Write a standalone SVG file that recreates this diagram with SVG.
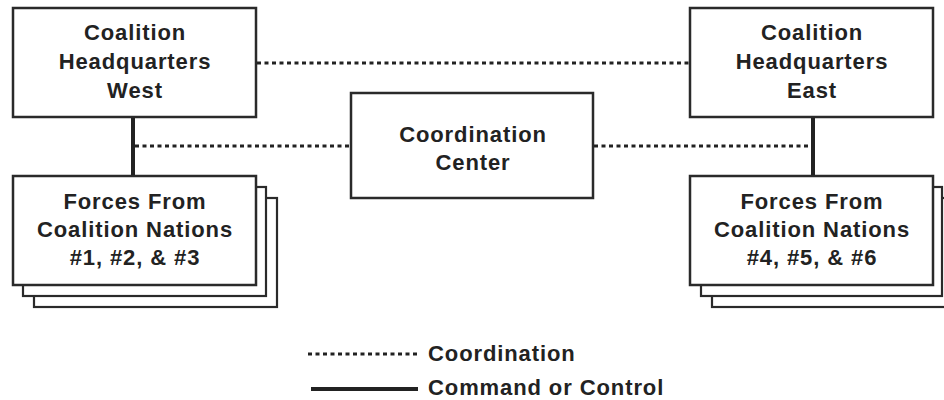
<svg xmlns="http://www.w3.org/2000/svg" width="944" height="400" viewBox="0 0 944 400">
<style>
.box{fill:#fff;stroke:#2a2a2a;stroke-width:2.5}
.back{fill:#fff;stroke:#2a2a2a;stroke-width:2.2}
.t{font-family:"Liberation Sans",Arial,sans-serif;font-weight:bold;font-size:22px;letter-spacing:0.9px;fill:#222;text-anchor:middle}
.lt{font-family:"Liberation Sans",Arial,sans-serif;font-weight:bold;font-size:22px;letter-spacing:0.9px;fill:#222}
.dot{stroke:#222;stroke-width:3;stroke-dasharray:4 3.5;fill:none}
.solid{stroke:#222;stroke-width:4;fill:none}
</style>
<rect width="944" height="400" fill="#fff"/>
<g id="connectors">
<line class="dot" x1="257" y1="63" x2="689" y2="63"/>
<line class="dot" x1="135" y1="146" x2="350" y2="146"/>
<line class="dot" x1="594" y1="146" x2="811" y2="146"/>
<line class="solid" x1="133" y1="117" x2="133" y2="176"/>
<line class="solid" x1="813" y1="117" x2="813" y2="176"/>
</g>
<g id="hq-west">
<rect class="box" x="13" y="8" width="243" height="109"/>
<text class="t" x="135" y="40">Coalition</text>
<text class="t" x="135" y="69">Headquarters</text>
<text class="t" x="135" y="98">West</text>
</g>
<g id="hq-east">
<rect class="box" x="690" y="8" width="243" height="109"/>
<text class="t" x="812" y="40">Coalition</text>
<text class="t" x="812" y="69">Headquarters</text>
<text class="t" x="812" y="98">East</text>
</g>
<g id="coordination-center">
<rect class="box" x="351" y="93" width="242" height="105"/>
<text class="t" x="473" y="142">Coordination</text>
<text class="t" x="473" y="170">Center</text>
</g>
<g id="forces-west">
<rect class="back" x="34" y="198" width="243" height="109"/>
<rect class="back" x="23" y="187" width="243" height="109"/>
<rect class="box" x="13" y="176" width="243" height="109"/>
<text class="t" x="135" y="209">Forces From</text>
<text class="t" x="135" y="237">Coalition Nations</text>
<text class="t" x="135" y="265">#1, #2, &amp; #3</text>
</g>
<g id="forces-east">
<rect class="back" x="712" y="198" width="243" height="109"/>
<rect class="back" x="701" y="187" width="241" height="109"/>
<rect class="box" x="690" y="176" width="243" height="109"/>
<text class="t" x="812" y="209">Forces From</text>
<text class="t" x="812" y="237">Coalition Nations</text>
<text class="t" x="812" y="265">#4, #5, &amp; #6</text>
</g>
<g id="legend">
<line class="dot" x1="308" y1="354" x2="418" y2="354"/>
<text class="lt" x="428" y="361">Coordination</text>
<line class="solid" x1="311" y1="389" x2="418" y2="389"/>
<text class="lt" x="428" y="395">Command or Control</text>
</g>
</svg>
